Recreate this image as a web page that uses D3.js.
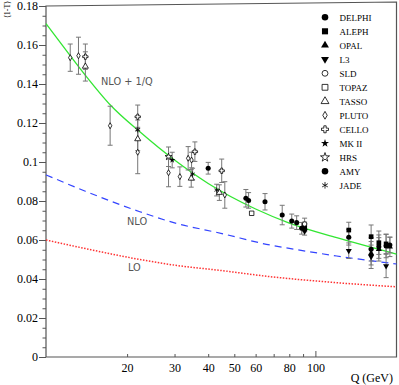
<!DOCTYPE html>
<html>
<head>
<meta charset="utf-8">
<script src="https://cdn.jsdelivr.net/npm/d3@7"></script>
<style>
body { margin: 0; background: #fff; }
svg { display: block; }
</style>
</head>
<body>
<svg id="chart" width="399" height="385"></svg>
<script>
// theory curves
var greenQ = [10, 12, 14, 17.4, 22.3, 30, 40, 60, 80, 120, 200];
var nloPowerV = [0.171, 0.1565, 0.1445, 0.129, 0.1155, 0.101, 0.089, 0.0759, 0.0687, 0.0612, 0.0528];
var curveQ = [10, 14, 22.3, 30, 45, 68, 80, 120, 200];
var nloV = [0.0934, 0.085, 0.0745, 0.0688, 0.0633, 0.0574, 0.0557, 0.0518, 0.0477];
var loV = [0.060, 0.0556, 0.050, 0.0471, 0.0443, 0.0412, 0.0402, 0.0381, 0.036];

// measurements: [Q, <1-T>, error]
var delphi = [[40.0, 0.0968, 0.003], [65.0, 0.0796, 0.0042], [75.3, 0.0728, 0.005], [81.7, 0.0697, 0.0036],
  [85.2, 0.0689, 0.0035], [88.9, 0.0660, 0.003], [91.2, 0.0672, 0.002], [133, 0.0614, 0.004],
  [161, 0.0552, 0.006], [172, 0.0566, 0.006], [183, 0.0569, 0.006], [189, 0.0574, 0.004]];
var aleph = [[91.2, 0.0665, 0.002], [133, 0.0651, 0.004], [161, 0.0617, 0.006], [172, 0.0586, 0.006], [183, 0.0580, 0.005]];
var opal = [[91.2, 0.0662, 0.002], [161, 0.0532, 0.006], [172, 0.0552, 0.006], [189, 0.0565, 0.005]];
var l3 = [[91.2, 0.0645, 0.002], [133, 0.0545, 0.004], [161, 0.0514, 0.006], [183, 0.0467, 0.006]];
var sld = [[91.2, 0.0682, 0.003]];
var topaz = [[58.0, 0.0737, 0]];
var tasso = [[14.0, 0.149, 0.0075], [21.9, 0.1118, 0.006], [34.6, 0.0916, 0.0045], [44.0, 0.0843, 0.004]];
var pluto = [[12.3, 0.1535, 0.007], [13.2, 0.1545, 0.0095], [17.3, 0.1186, 0.010], [21.9, 0.105, 0.011],
  [28.5, 0.0945, 0.0072], [31.4, 0.0925, 0.005], [33.7, 0.1019, 0.006], [34.7, 0.101, 0.004], [46.1, 0.0831, 0.0068]];
var cello = [[14.0, 0.154, 0.0065], [21.9, 0.1232, 0.006], [35.7, 0.1053, 0.005], [44.9, 0.0955, 0.006]];
var mk2 = [[29.4, 0.101, 0.004]];
var hrs = [[28.5, 0.1027, 0.005]];
var amy = [[55.2, 0.0814, 0.0045], [56.5, 0.0803, 0.004]];
var jade = [[21.9, 0.1165, 0.005], [35.0, 0.0938, 0.003], [43.0, 0.0856, 0.003]];

var names = ["DELPHI", "ALEPH", "OPAL", "L3", "SLD", "TOPAZ", "TASSO", "PLUTO", "CELLO", "MK II", "HRS", "AMY", "JADE"];
var marks = ["circleF", "squareF", "triUpF", "triDownF", "circleO", "squareO", "triUpO", "diamondO", "crossO", "starF", "starO", "circleF", "asterisk"];
var sets = [delphi, aleph, opal, l3, sld, topaz, tasso, pluto, cello, mk2, hrs, amy, jade];

var yMajor = [0, 0.02, 0.04, 0.06, 0.08, 0.1, 0.12, 0.14, 0.16, 0.18];
var yMinor = d3.range(0, 0.1801, 0.005);
var xTicks = [20, 30, 40, 50, 60, 70, 80, 90, 100];
var xLabels = [20, 30, 40, 50, 60, 80, 100];

var svg = d3.select("#chart");
var x = d3.scaleLog().domain([10, 200]).range([46, 396.5]);
var y = d3.scaleLinear().domain([0, 0.18]).range([357, 6]);

var serif = "'Liberation Serif', 'Times New Roman', serif";

// frame
svg.append("path")
  .attr("d", "M46,6 L396.5,2 L396.5,357 L46,357 Z")
  .attr("fill", "none").attr("stroke", "#555").attr("stroke-width", 1.2);

// y axis
var ya = svg.append("g").attr("transform", "translate(46,0)")
  .call(d3.axisLeft(y).tickValues(yMajor).tickSize(7).tickPadding(1)
    .tickFormat(function(d) { return String(+d.toFixed(2)); }));
ya.select(".domain").remove();
ya.selectAll("line").attr("stroke", "#555");
ya.selectAll("text").attr("font-family", serif).attr("font-size", 12).attr("fill", "#000");

var ym = svg.append("g").attr("transform", "translate(46,0)")
  .call(d3.axisLeft(y).tickValues(yMinor).tickSize(3.5).tickFormat(""));
ym.select(".domain").remove();
ym.selectAll("line").attr("stroke", "#555");

// x axis, ticks pointing inward
var xa = svg.append("g").attr("transform", "translate(0,357)")
  .call(d3.axisBottom(x).tickValues(xTicks).tickSizeInner(-3).tickSizeOuter(0).tickPadding(6.5)
    .tickFormat(function(d) { return xLabels.indexOf(d) >= 0 ? d : ""; }));
xa.select(".domain").remove();
xa.selectAll("line").attr("stroke", "#555").attr("y2", function(d) { return d === 100 ? -6 : -3; });
xa.selectAll("text").attr("font-family", serif).attr("font-size", 12).attr("fill", "#000");

svg.append("text").attr("x", 393).attr("y", 382).attr("text-anchor", "end")
  .attr("font-family", serif).attr("font-size", 12).text("Q (GeV)");
svg.append("text").attr("transform", "translate(10,9.5) rotate(-90)").attr("text-anchor", "middle")
  .attr("font-family", serif).attr("font-size", 8).text("\u27e81-T\u27e9");

// theory curves
var line = d3.line().x(function(d) { return x(d[0]); }).y(function(d) { return y(d[1]); }).curve(d3.curveMonotoneX);
svg.append("path").datum(d3.zip(curveQ, loV)).attr("d", line)
  .attr("fill", "none").attr("stroke", "#ff3333").attr("stroke-width", 1.5).attr("stroke-dasharray", "1.5,1.5");
svg.append("path").datum(d3.zip(curveQ, nloV)).attr("d", line)
  .attr("fill", "none").attr("stroke", "#3344ff").attr("stroke-width", 1.2).attr("stroke-dasharray", "7,5");
svg.append("path").datum(d3.zip(greenQ, nloPowerV)).attr("d", line)
  .attr("fill", "none").attr("stroke", "#33e633").attr("stroke-width", 1.3);

var sans = "'DejaVu Sans', sans-serif";
svg.append("text").attr("x", 101).attr("y", 85).attr("font-family", sans).attr("font-size", 9.8).attr("fill", "#555").text("NLO + 1/Q");
svg.append("text").attr("x", 127).attr("y", 225).attr("font-family", sans).attr("font-size", 9.8).attr("fill", "#555").text("NLO");
svg.append("text").attr("x", 128).attr("y", 271).attr("font-family", sans).attr("font-size", 9.8).attr("fill", "#555").text("LO");

// marker drawing
function drawMark(g, type, k) {
  var filled = /F$/.test(type);
  var p;
  if (type === "diamondO") {
    var w = 1.7 * k, h = 3 * k;
    p = g.append("path").attr("d", "M0," + (-h) + "L" + w + ",0L0," + h + "L" + (-w) + ",0Z");
  } else {
    var sym = {
      circleF: [d3.symbolCircle, 20], circleO: [d3.symbolCircle, 16],
      squareF: [d3.symbolSquare, 22], squareO: [d3.symbolSquare, 20],
      triUpF: [d3.symbolTriangle, 16], triDownF: [d3.symbolTriangle, 16], triUpO: [d3.symbolTriangle, 16],
      crossO: [d3.symbolCross, 16], starF: [d3.symbolStar, 12], starO: [d3.symbolStar, 15],
      asterisk: [d3.symbolAsterisk, 18]
    }[type];
    p = g.append("path").attr("d", d3.symbol().type(sym[0]).size(sym[1] * k * k)());
    if (type === "triDownF") p.attr("transform", "rotate(180)");
  }
  if (filled) p.attr("fill", "#000").attr("stroke", "none");
  else p.attr("fill", type === "asterisk" ? "none" : "#fff").attr("stroke", "#000").attr("stroke-width", 0.8);
}

// error bars and points
var pts = svg.append("g");
sets.forEach(function(set) {
  set.forEach(function(d) {
    var px = x(d[0]);
    if (d[2] > 0) {
      var y0 = y(d[1] - d[2]), y1 = y(d[1] + d[2]);
      pts.append("line").attr("x1", px).attr("x2", px).attr("y1", y0).attr("y2", y1).attr("stroke", "#777").attr("stroke-width", 1);
      [y0, y1].forEach(function(yy) {
        pts.append("line").attr("x1", px - 2.5).attr("x2", px + 2.5).attr("y1", yy).attr("y2", yy).attr("stroke", "#777").attr("stroke-width", 1);
      });
    }
  });
});
sets.forEach(function(set, i) {
  set.forEach(function(d) {
    var g = pts.append("g").attr("transform", "translate(" + x(d[0]) + "," + y(d[1]) + ")");
    drawMark(g, marks[i], 1);
  });
});

// legend
var leg = svg.append("g");
names.forEach(function(n, i) {
  var ly = 17.3 + i * 14;
  var g = leg.append("g").attr("transform", "translate(325," + ly + ")");
  drawMark(g, marks[i], 1.3);
  leg.append("text").attr("x", 339.5).attr("y", ly + 3.2).attr("font-family", serif).attr("font-size", 9).text(n);
});
</script>
</body>
</html>
